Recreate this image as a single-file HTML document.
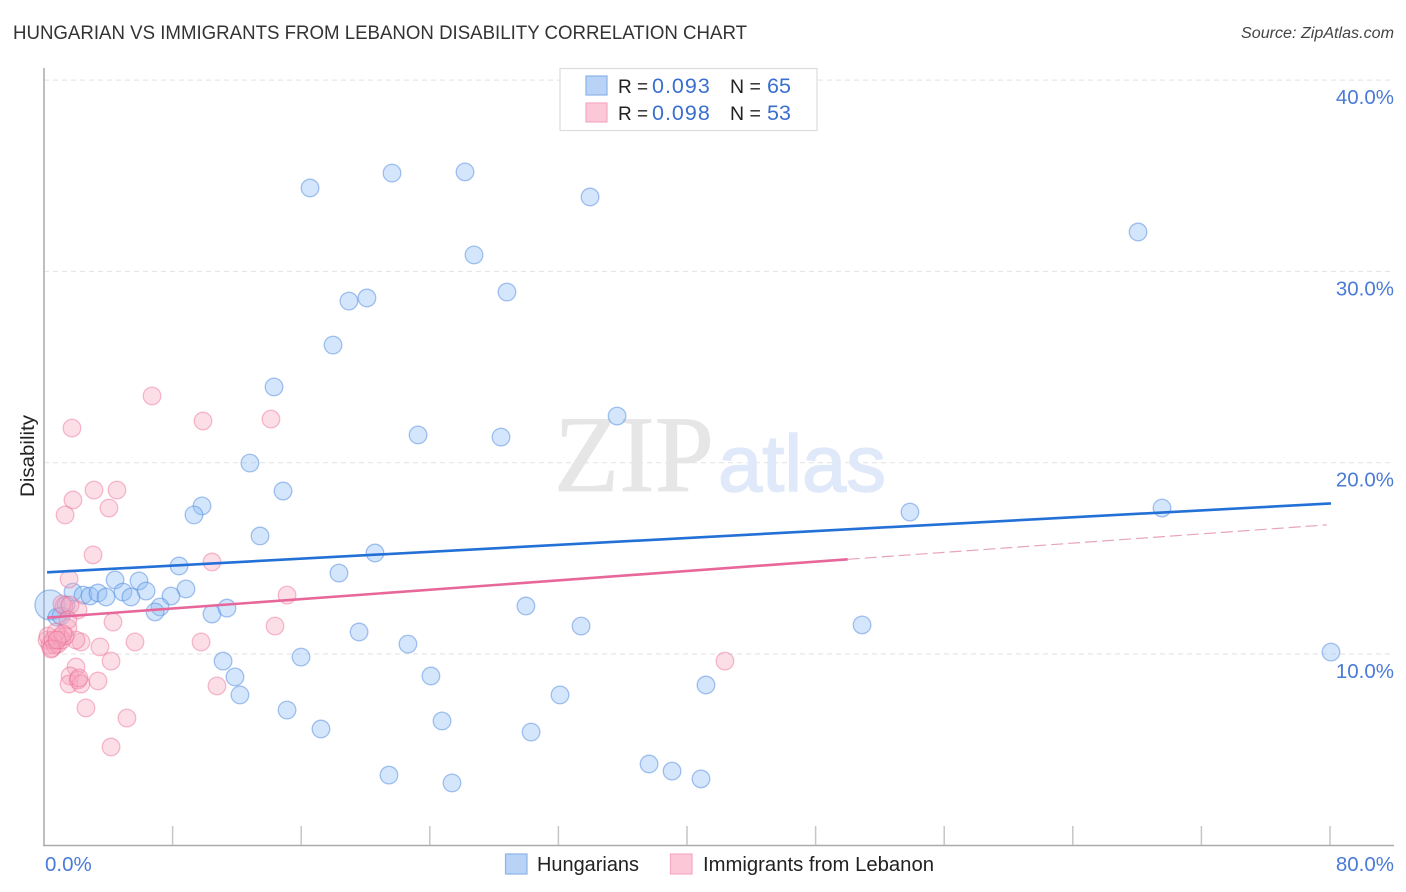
<!DOCTYPE html>
<html lang="en">
<head>
<meta charset="utf-8">
<title>Hungarian vs Immigrants from Lebanon Disability Correlation Chart</title>
<style>
html,body{margin:0;padding:0;background:#fff;width:1406px;height:892px;overflow:hidden}
svg{display:block;font-family:"Liberation Sans",sans-serif}
</style>
</head>
<body>
<svg id="chart" xmlns="http://www.w3.org/2000/svg" width="1406" height="892" viewBox="0 0 1406 892">
  <text x="13" y="39" font-size="19" fill="#333" textLength="734" lengthAdjust="spacingAndGlyphs">HUNGARIAN VS IMMIGRANTS FROM LEBANON DISABILITY CORRELATION CHART</text>
  <text x="1241" y="38" font-size="15.5" font-style="italic" fill="#444" textLength="153" lengthAdjust="spacingAndGlyphs">Source: ZipAtlas.com</text>
  <g id="grid"></g>
  <g>
    <text x="554" y="491" font-family="'Liberation Serif',serif" font-size="109" fill="#e6e6e6" stroke="#e6e6e6" stroke-width="0.8" textLength="160" lengthAdjust="spacingAndGlyphs">ZIP</text>
    <text x="718" y="491" font-size="80" fill="#dfe9f9" stroke="#dfe9f9" stroke-width="1.5" textLength="168" lengthAdjust="spacingAndGlyphs">atlas</text>
  </g>
  <g id="axes"></g>
  <g id="points-hungarians"></g>
  <g id="points-lebanon"></g>
  <g id="trends"></g>
  <g id="ylabels"></g>
  <g id="xlabels"></g>
  <text transform="translate(34,456) rotate(-90)" font-size="19" fill="#222" text-anchor="middle" textLength="82" lengthAdjust="spacingAndGlyphs">Disability</text>

  <g>
    <rect x="560" y="68.5" width="257" height="62" fill="#fff" stroke="#dcdcdc" stroke-width="1.2"/>
    <rect x="586" y="76" width="21" height="19" fill="#b9d3f7" stroke="#8db4ea" stroke-width="1.2"/>
    <rect x="586" y="103" width="21" height="19" fill="#fcc8d8" stroke="#f5a9c2" stroke-width="1.2"/>
    <text y="93" font-size="20" fill="#222"><tspan x="618" font-size="19">R =</tspan><tspan x="652" fill="#3a6fd0" font-size="21.5" letter-spacing="1">0.093</tspan><tspan x="730" font-size="19.5">N =</tspan><tspan x="767" fill="#3a6fd0" font-size="21.5">65</tspan></text>
    <text y="120" font-size="20" fill="#222"><tspan x="618" font-size="19">R =</tspan><tspan x="652" fill="#3a6fd0" font-size="21.5" letter-spacing="1">0.098</tspan><tspan x="730" font-size="19.5">N =</tspan><tspan x="767" fill="#3a6fd0" font-size="21.5">53</tspan></text>
  </g>

  <g>
    <rect x="505.5" y="854" width="21.5" height="20" fill="#b9d3f7" stroke="#8db4ea" stroke-width="1.2"/>
    <text x="537" y="871" font-size="20" fill="#222" textLength="102" lengthAdjust="spacingAndGlyphs">Hungarians</text>
    <rect x="670.5" y="854" width="21.5" height="20" fill="#fcc8d8" stroke="#f5a9c2" stroke-width="1.2"/>
    <text x="703" y="871" font-size="20" fill="#222" textLength="231" lengthAdjust="spacingAndGlyphs">Immigrants from Lebanon</text>
  </g>
</svg>
<script>
const yTickValues = [10, 20, 30, 40];
const yTickLabels = ["10.0%", "20.0%", "30.0%", "40.0%"];
const xTickValues = [0, 8, 16, 24, 32, 40, 48, 56, 64, 72, 80];
const xEndValues = ["0.0%", "80.0%"];

const hungariansX = [16.55,21.65,26.19,33.97,68.06,26.75,28.8,20.09,18.97,17.98,14.31,35.65,23.27,28.43,12.81,14.87,9.83,9.33,13.44,53.87,69.55,20.59,8.4,18.35,4.42,5.91,8.83,1.8,2.43,2.86,3.36,3.86,4.91,5.41,6.35,7.9,7.22,6.91,10.45,11.38,29.98,33.41,50.89,19.6,22.64,80.06,15.99,11.14,11.88,24.07,12.19,41.18,32.1,15.12,24.76,17.23,30.3,37.64,39.07,40.87,21.46,25.38,1.37,0.81,1.06];
const hungariansY = [34.36,35.14,35.2,33.89,32.06,30.86,28.92,28.61,28.45,26.15,23.96,22.44,21.45,21.34,19.98,18.52,17.74,17.27,16.17,17.42,17.63,15.28,14.6,14.23,13.87,13.82,13.4,13.24,13.08,13.03,13.19,12.98,13.24,12.98,13.29,13.03,12.46,12.2,12.09,12.4,12.51,11.46,11.52,11.15,10.52,10.1,9.84,9.63,8.8,8.85,7.86,8.38,7.86,7.07,6.5,6.08,5.92,4.25,3.88,3.47,3.67,3.26,12.56,11.93,11.99];
const largeHungarianX = [0.37];
const largeHungarianY = [12.56];

const lebanonX = [6.72,9.89,14.12,1.74,3.11,4.54,1.8,4.04,1.31,10.45,3.05,1.56,15.12,4.29,14.37,5.66,9.77,3.48,1.99,1.62,1.56,2.12,2.3,2.18,3.36,2.61,5.16,4.17,10.76,4.17,42.36,2.3,1.99,2.12,1.49,1.24,1.12,1.62,1.49,0.19,0.37,0.5,0.68,0.87,1,1.12,1.31,0.25,0.56,0.75,1.18,0.44,0.81];
const lebanonY = [23.49,22.18,22.28,21.81,18.57,18.57,18.05,17.63,17.27,14.81,15.18,13.92,13.08,11.67,11.46,10.63,10.63,10.37,9.32,8.85,8.43,8.64,8.43,8.75,8.59,7.18,6.65,5.14,8.33,9.63,9.63,10.63,10.73,12.3,11.36,12.51,12.61,12.56,11.78,10.73,10.47,10.31,10.47,10.52,10.89,10.73,10.94,10.94,10.73,11.15,11.05,10.26,10.73];

const hungariansTrendX = [0.19, 80.06];
const hungariansTrendY = [14.27, 17.87];
const lebanonTrendX = [0.19, 50];
const lebanonTrendY = [11.9, 14.95];
const lebanonDashX = [50, 79.8];
const lebanonDashY = [14.95, 16.75];

const xScale = v => 44 + v * 16.075;
const yScale = v => 654 - (v - 10) * 19.13;
const NS = "http://www.w3.org/2000/svg";
function make(tag, attrs, parent) {
  const el = document.createElementNS(NS, tag);
  for (const k in attrs) el.setAttribute(k, attrs[k]);
  parent.appendChild(el);
  return el;
}

const grid = document.getElementById("grid");
yTickValues.forEach(v => {
  const line = make("line", {x1: 44, x2: 1394, y1: yScale(v), y2: yScale(v), stroke: "#e2e2e2", "stroke-width": 1, "stroke-dasharray": "5 4"}, grid);
  
  
});

const axes = document.getElementById("axes");
const yAxis = make("line", {x1: 44, x2: 44, y1: 68, y2: 845.5, stroke: "#aaa", "stroke-width": 1.5}, axes);


const xAxis = make("line", {x1: 43, x2: 1394, y1: 845.5, y2: 845.5, stroke: "#aaa", "stroke-width": 1.5}, axes);


xTickValues.slice(1).forEach(v => {
  const tick = make("line", {x1: xScale(v), x2: xScale(v), y1: 826, y2: 845, stroke: "#c6c6c6", "stroke-width": 1.5}, axes);
  
  
});

function drawPoints(xs, ys, group, fill, fillOp, stroke, strokeOp, r, name) {
  xs.forEach((x, i) => {
    const c = make("circle", {cx: xScale(x), cy: yScale(ys[i]), r: r, fill: fill, "fill-opacity": fillOp, stroke: stroke, "stroke-opacity": strokeOp, "stroke-width": 1.3}, group);
    
    
  });
}
const gH = document.getElementById("points-hungarians");
const gL = document.getElementById("points-lebanon");
drawPoints(largeHungarianX, largeHungarianY, gH, "#8fbcf5", 0.38, "#4f8adf", 0.5, 15, "hungarians-point-large");
drawPoints(hungariansX, hungariansY, gH, "#8fbcf5", 0.38, "#4f8adf", 0.5, 8.8, "hungarians-point");
drawPoints(lebanonX, lebanonY, gL, "#f8a8c0", 0.38, "#e9648f", 0.42, 8.8, "lebanon-point");

const trends = document.getElementById("trends");
function drawTrend(xs, ys, color, width, dash, name) {
  const attrs = {x1: xScale(xs[0]), y1: yScale(ys[0]), x2: xScale(xs[1]), y2: yScale(ys[1]), stroke: color, "stroke-width": width};
  if (dash) attrs["stroke-dasharray"] = dash;
  const l = make("line", attrs, trends);
  
  
}
drawTrend(hungariansTrendX, hungariansTrendY, "#2370d6", 2.6, null, "hungarians-trend-line");
drawTrend(lebanonTrendX, lebanonTrendY, "#e8679a", 2.6, null, "lebanon-trend-line");
drawTrend(lebanonDashX, lebanonDashY, "#e8a3bd", 1.2, "12 5", "lebanon-trend-extension");

const ylabels = document.getElementById("ylabels");
yTickValues.forEach((v, i) => {
  const t = make("text", {x: 1394, y: yScale(v) + 24, "font-size": 20.5, fill: "#4a7bd6", "text-anchor": "end"}, ylabels);
  t.textContent = yTickLabels[i];
  
  
});
const xlabels = document.getElementById("xlabels");
const x0 = make("text", {x: 45, y: 871, "font-size": 20.5, fill: "#4a7bd6"}, xlabels);
x0.textContent = xEndValues[0];


const x1 = make("text", {x: 1394, y: 871, "font-size": 20.5, fill: "#4a7bd6", "text-anchor": "end"}, xlabels);
x1.textContent = xEndValues[1];


</script>
</body>
</html>
